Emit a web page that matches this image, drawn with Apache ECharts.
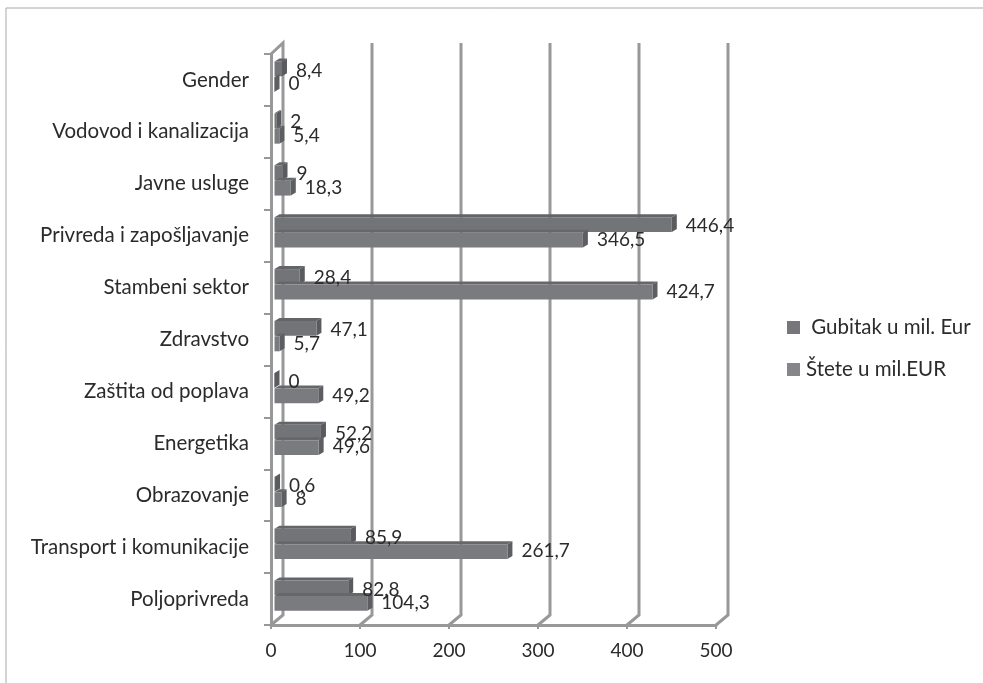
<!DOCTYPE html>
<html><head><meta charset="utf-8">
<style>html,body{margin:0;padding:0;background:#fff}#c{width:983px;height:683px}</style>
<script src="https://cdn.jsdelivr.net/npm/echarts@6/dist/echarts.min.js"></script>
</head><body><div id="c"></div>
<script>
const categories = ['Gender','Vodovod i kanalizacija','Javne usluge','Privreda i zapošljavanje','Stambeni sektor','Zdravstvo','Zaštita od poplava','Energetika','Obrazovanje','Transport i komunikacije','Poljoprivreda'];
const gubitak = [8.4,2,9,446.4,28.4,47.1,0,52.2,0.6,85.9,82.8];
const stete = [0,5.4,18.3,346.5,424.7,5.7,49.2,49.6,8,261.7,104.3];
const xTicks = [0,100,200,300,400,500];
const gubitakName = ' Gubitak u mil. Eur';
const steteName = 'Štete u mil.EUR';

const FONT = 'Lato';
const TEXT = '#2b2b2b';
const WALL = '#989898';
const chart = echarts.init(document.getElementById('c'), null, {renderer:'canvas'});

function wallItem(params, api){
  const v = api.value(0);
  const p = api.coord([v, 0]);
  const pBottom = api.coord([v, categories.length-1]);
  const band = api.size([0,1])[1];
  const top = p[1]-band/2, bottom = pBottom[1]+band/2, x = p[0];
  const dx = 12, dy = 10;
  const pts = v === 0
    ? [[x,top],[x+dx,top-dy-1],[x+dx,bottom-dy],[x,bottom]]
    : [[x+dx,top-dy-1],[x+dx,bottom-dy],[x,bottom]];
  return {type:'polyline', shape:{points:pts}, style:{fill:'none', stroke:WALL, lineWidth:3}};
}
function barRenderer(frontTop, labelDy, front, top, side){
  return function(params, api){
    const val = api.value(0), idx = api.value(1);
    const a = api.coord([0, idx]), b = api.coord([val, idx]);
    const inset = 3.5, dx = 5, dy = 3, h = 14.8;
    const x0 = a[0]+inset, x1 = b[0]+inset, y0 = a[1]+frontTop, y1 = y0+h;
    const label = String(val).replace('.', ',');
    return {type:'group', children:[
      {type:'polygon', shape:{points:[[x0,y0],[x0+dx,y0-dy],[x1+dx,y0-dy],[x1,y0]]}, style:{fill:top}},
      {type:'polygon', shape:{points:[[x1,y0],[x1+dx,y0-dy],[x1+dx,y1-dy],[x1,y1]]}, style:{fill:side}},
      {type:'rect', shape:{x:x0,y:y0,width:Math.max(x1-x0,0.5),height:h}, style:{fill:front}},
      {type:'text', z2:100, x:x1+dx+9, y:a[1]+labelDy, style:{text:label, font:'19px '+FONT, fill:TEXT, verticalAlign:'middle', align:'left'}}
    ]};
  };
}
const seriesData = arr => arr.map((v,i)=>[v,i]);
chart.setOption({
  animation:false,
  backgroundColor:'#ffffff',
  textStyle:{fontFamily:FONT},
  grid:{left:271, top:54, width:445, height:571, containLabel:false},
  xAxis:{type:'value', min:0, max:500, interval:100,
    axisLine:{show:true, onZero:false, lineStyle:{color:WALL,width:3}},
    axisTick:{show:true, length:4, lineStyle:{color:WALL,width:2}},
    splitLine:{show:false},
    axisLabel:{color:TEXT, fontSize:19, fontFamily:FONT, margin:16,
      showMinLabel:true, showMaxLabel:true}},
  yAxis:{type:'category', inverse:true, data:categories,
    axisLine:{show:true, onZero:false, lineStyle:{color:WALL,width:3}},
    axisTick:{show:true, length:7, alignWithLabel:false, lineStyle:{color:WALL,width:2}},
    axisLabel:{color:TEXT, fontSize:20.5, fontFamily:FONT, margin:22, interval:0}},
  legend:{orient:'vertical', left:782, top:312, itemWidth:13, itemHeight:13, itemGap:21,
    data:[{name:gubitakName,icon:'rect'},{name:steteName,icon:'rect'}],
    textStyle:{color:TEXT, fontSize:20.5, fontFamily:FONT, padding:[0,0,0,1]}},
  graphic:[
    {type:'polyline', silent:true, shape:{points:[[6,683],[6,8],[983,8]]}, style:{fill:'none',stroke:'#a8a8a8',lineWidth:1}}
  ],
  series:[
    {type:'custom', name:'walls', z:1, silent:true, coordinateSystem:'cartesian2d', encode:{x:0,y:1},
      data:xTicks.map(v=>[v,0]), renderItem:wallItem},
    {type:'custom', name:gubitakName, z:2, coordinateSystem:'cartesian2d', encode:{x:0,y:1},
      itemStyle:{color:'#77777b'}, data:seriesData(gubitak),
      renderItem:barRenderer(-18.5,-9.5,'#737478','#646568','#5a5b5e')},
    {type:'custom', name:steteName, z:2, coordinateSystem:'cartesian2d', encode:{x:0,y:1},
      itemStyle:{color:'#85858a'}, data:seriesData(stete),
      renderItem:barRenderer(-3,4,'#7a7b7f','#66676a','#5d5e61')}
  ]
});
</script></body></html>
